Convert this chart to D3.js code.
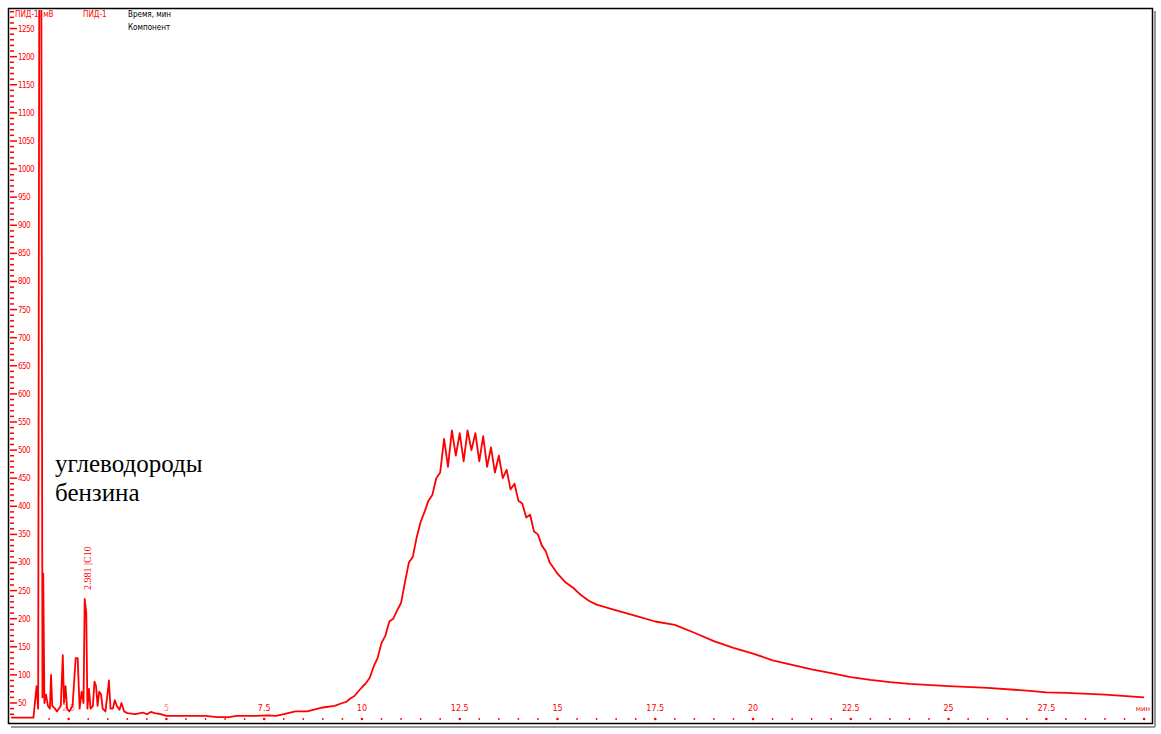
<!DOCTYPE html>
<html><head><meta charset="utf-8">
<script src="https://cdn.jsdelivr.net/npm/d3@7"></script>
<style>body{margin:0;background:#fff}</style></head>
<body><svg id="c" width="1161" height="734"></svg>
<script>
const times=[1.03,1.6,1.68,1.72,1.75,1.8,1.83,1.85,1.88,1.92,1.97,2.02,2.05,2.08,2.15,2.2,2.3,2.35,2.38,2.42,2.46,2.52,2.6,2.68,2.73,2.78,2.83,2.88,2.91,2.95,2.98,3.02,3.06,3.12,3.16,3.2,3.24,3.28,3.33,3.37,3.44,3.5,3.53,3.57,3.63,3.68,3.73,3.8,3.85,3.92,4.0,4.2,4.4,4.5,4.6,4.7,4.85,5.0,5.5,6.0,6.3,6.6,6.8,7.3,7.6,7.8,8.0,8.3,8.6,9.0,9.3,
9.5,9.6,9.7,9.8,9.9,10.0,10.1,10.2,10.3,10.4,10.5,10.6,10.7,10.8,10.9,11.0,11.1,11.2,11.3,11.4,11.5,11.6,11.7,11.8,11.9,12.0,12.1,12.2,12.3,12.4,12.5,12.6,12.7,12.8,12.9,13.0,13.1,13.2,13.3,13.4,13.5,13.6,13.7,13.8,13.9,14.0,14.1,14.2,14.3,14.4,14.5,14.6,14.7,14.8,14.9,15.0,15.2,15.4,15.6,15.8,16.0,16.5,17.0,17.5,18.0,18.5,19,19.5,20,20.5,21,21.5,22,22.5,23,23.5,24,25,26,27,27.5,28,29,30];
const signal=[24,24,80,40,1400,1400,60,280,50,65,45,40,100,45,40,35,45,135,50,80,40,35,45,130,130,40,70,50,235,210,40,75,40,45,88,80,45,70,65,40,35,70,90,40,40,55,45,38,50,35,32,30,33,30,34,32,30,27,27,27,25,25,27,27,28,27,30,35,35,42,45,
50,52,58,62,70,78,85,95,115,130,157,170,195,200,215,228,265,300,310,345,372,390,410,420,450,460,520,470,535,490,530,480,535,500,530,480,525,470,505,460,490,450,465,430,440,410,405,380,385,355,350,330,320,300,290,280,265,255,242,232,225,215,205,195,189,175,160,148,138,126,118,110,103,96,91,87,84,80,77,72,69,68,65,60,57];
const yTicks=d3.range(50,1251,50);
const xTicks=[2.5,5,7.5,10,12.5,15,17.5,20,22.5,25,27.5];
const peakLabel={t:2.981,text:"2.981 |C10"};
const noteLines=["углеводороды","бензина"];

const svg=d3.select("#c");
const red="#ff0000";
const x=d3.scaleLinear().domain([1.0,30.1]).range([10,1148]);
const y=d3.scaleLinear().domain([23.3,1286.6]).range([718,8]);
svg.append("rect").attr("x",8.5).attr("y",8.5).attr("width",1144).attr("height",715).attr("fill","#fff").attr("stroke","#000").attr("stroke-width",1.5);
svg.append("line").attr("x1",1155).attr("x2",1155).attr("y1",11).attr("y2",727).attr("stroke","#999").attr("stroke-width",2);
svg.append("line").attr("x1",11).attr("x2",1155).attr("y1",727).attr("y2",727).attr("stroke","#999").attr("stroke-width",2);
svg.append("defs").append("clipPath").attr("id","cp").append("rect").attr("x",10).attr("y",10).attr("width",1141).attr("height",712);
const minor=d3.range(30,1281,10);
const ya=svg.append("g");
ya.selectAll("line.m").data(minor).join("line").attr("x1",10).attr("x2",d=>d%50===0?17:14).attr("y1",d=>y(d)).attr("y2",d=>y(d)).attr("stroke",red).attr("stroke-width",1.5);
ya.selectAll("text").data(yTicks).join("text").attr("x",18).attr("y",d=>y(d)+3).text(d=>d).attr("fill",red).attr("font-size",8).attr("font-family","DejaVu Sans Condensed, DejaVu Sans").attr("letter-spacing",-0.6);
const xa=svg.append("g");
xa.selectAll("circle").data(d3.range(2,30.1,0.5)).join("circle").attr("cx",d=>x(d)).attr("cy",719).attr("r",d=>d%2.5===0?1.3:0.9).attr("fill",red);
xa.selectAll("text").data(xTicks).join("text").attr("x",d=>x(d)).attr("y",711).attr("text-anchor","middle").text(d=>String(d)).attr("fill",red).attr("opacity",d=>d<7?0.5:1).attr("font-size",8).attr("font-family","DejaVu Sans");
xa.append("text").attr("x",1143).attr("y",711).attr("text-anchor","middle").text("мин").attr("fill",red).attr("font-size",7).attr("font-family","DejaVu Sans");
const pts=times.map((t,i)=>[t,signal[i]]);
svg.append("path").datum(pts).attr("clip-path","url(#cp)").attr("fill","none").attr("stroke",red).attr("stroke-width",1.8).attr("stroke-linejoin","round")
 .attr("d",d3.line().x(d=>x(d[0])).y(d=>y(d[1])));
const hf="DejaVu Sans Condensed, DejaVu Sans";
svg.append("text").attr("x",15).attr("y",17).text("ПИД-1, мВ").attr("fill",red).attr("font-size",8).attr("font-family",hf);
svg.append("text").attr("x",83).attr("y",17).text("ПИД-1").attr("fill",red).attr("font-size",8).attr("font-family",hf);
svg.append("text").attr("x",128).attr("y",17).text("Время, мин").attr("fill","#000").attr("font-size",8).attr("font-family",hf);
svg.append("text").attr("x",128).attr("y",30).text("Компонент").attr("fill","#000").attr("font-size",8).attr("font-family",hf);
svg.append("text").attr("transform",`translate(${x(peakLabel.t)+4},590) rotate(-90)`).text(peakLabel.text).attr("fill",red).attr("font-size",10).attr("font-family","Liberation Serif");
svg.selectAll("text.note").data(noteLines).join("text").attr("class","note").attr("x",55).attr("y",(d,i)=>472+i*29).text(d=>d).attr("font-size",25).attr("font-family","Liberation Serif").attr("fill","#000");
</script></body></html>
